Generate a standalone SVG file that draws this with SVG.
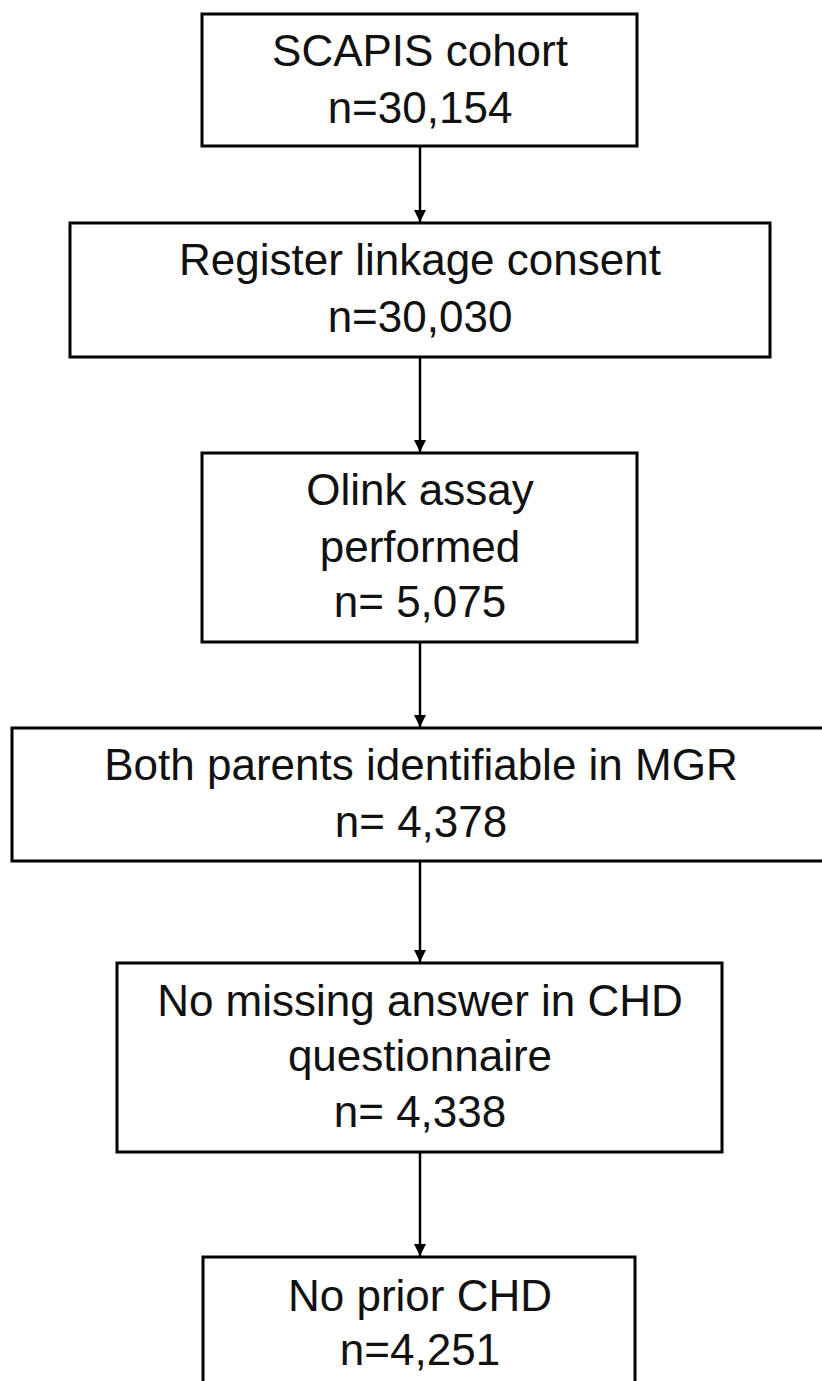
<svg xmlns="http://www.w3.org/2000/svg" width="822" height="1381" viewBox="0 0 822 1381">
<defs>
<style>
.box{fill:#fff;stroke:#000;stroke-width:3}
.t{font-family:"Liberation Sans",Arial,sans-serif;font-size:44px;fill:#111;text-anchor:middle}
.c{stroke:#000;stroke-width:2.5;fill:none;marker-end:url(#ah)}
</style>
<marker id="ah" viewBox="0 0 12 14" refX="12" refY="7" markerWidth="12" markerHeight="14" markerUnits="userSpaceOnUse" orient="auto">
<path d="M0,1 L12,7 L0,13 Z" fill="#000"/>
</marker>
</defs>
<rect width="822" height="1381" fill="#fff"/>
<g id="connectors">
<line class="c" x1="420" y1="146" x2="420" y2="222"/>
<line class="c" x1="420" y1="357" x2="420" y2="452"/>
<line class="c" x1="420" y1="642" x2="420" y2="727"/>
<line class="c" x1="420" y1="861" x2="420" y2="962"/>
<line class="c" x1="420" y1="1152" x2="420" y2="1256"/>
</g>
<g id="n1">
<rect class="box" x="202" y="14" width="435" height="132"/>
<text class="t" x="420" y="66">SCAPIS cohort</text>
<text class="t" x="420" y="123">n=30,154</text>
</g>
<g id="n2">
<rect class="box" x="70" y="223" width="700" height="134"/>
<text class="t" x="420" y="275">Register linkage consent</text>
<text class="t" x="420" y="332">n=30,030</text>
</g>
<g id="n3">
<rect class="box" x="202" y="453" width="435" height="189"/>
<text class="t" x="420" y="505">Olink assay</text>
<text class="t" x="420" y="562">performed</text>
<text class="t" x="420" y="617">n= 5,075</text>
</g>
<g id="n4">
<rect class="box" x="12" y="728" width="816" height="133"/>
<text class="t" x="421" y="780">Both parents identifiable in MGR</text>
<text class="t" x="421" y="837">n= 4,378</text>
</g>
<g id="n5">
<rect class="box" x="117" y="963" width="605" height="189"/>
<text class="t" x="420" y="1016">No missing answer in CHD</text>
<text class="t" x="420" y="1071">questionnaire</text>
<text class="t" x="420" y="1127">n= 4,338</text>
</g>
<g id="n6">
<rect class="box" x="203" y="1257" width="432" height="135"/>
<text class="t" x="420" y="1311">No prior CHD</text>
<text class="t" x="420" y="1365">n=4,251</text>
</g>
</svg>
